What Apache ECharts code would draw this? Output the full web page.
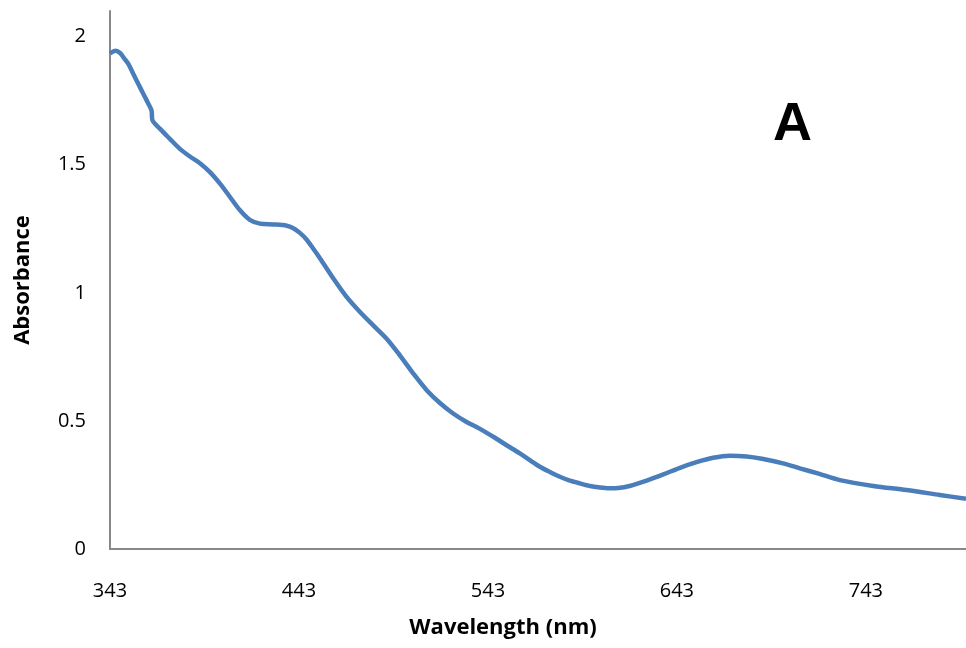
<!DOCTYPE html>
<html>
<head>
<meta charset="utf-8">
<script src="https://cdn.jsdelivr.net/npm/echarts@6/dist/echarts.min.js"></script>
<style>
  html, body { margin: 0; padding: 0; background: #fff; }
  #chart { width: 966px; height: 648px; }
</style>
</head>
<body>
<div id="chart"></div>
<script>
// UV-Vis absorption spectrum
const wavelengths = [
  343, 346, 348.5, 350.5, 352.7, 355.3, 358, 360.6, 363.3, 365.0, 365.4,
  369.5, 374.7, 380, 385.3, 390.6, 395.9, 401.2, 406.5, 411.8, 417,
  422.4, 429.4, 436.5, 440, 443.5, 447, 450.6, 454.1, 461.1, 468.2,
  475.3, 482.3, 489.4, 496.4, 503.5, 510.6, 517.6, 524.6, 531.7, 538.8,
  545.8, 552.9, 559.9, 565, 570.5, 576, 581.1, 586, 591.7, 597,
  602.3, 607, 612, 618, 627, 635.8, 644.6, 653.4, 662.2, 671, 679.9,
  688, 699.2, 708.1, 718, 729.2, 746.9, 764.5, 782.1, 796
];
const absorbance = [
  1.935, 1.945, 1.935, 1.915, 1.894, 1.855, 1.815, 1.777, 1.738, 1.711, 1.675,
  1.640, 1.601, 1.562, 1.532, 1.506, 1.471, 1.426, 1.374, 1.322, 1.285,
  1.270, 1.267, 1.262, 1.252, 1.234, 1.208, 1.172, 1.135, 1.057, 0.984,
  0.925, 0.873, 0.821, 0.756, 0.685, 0.620, 0.570, 0.529, 0.496, 0.469,
  0.438, 0.405, 0.373, 0.348, 0.321, 0.300, 0.282, 0.268, 0.256, 0.246,
  0.240, 0.237, 0.238, 0.246, 0.267, 0.291, 0.317, 0.339, 0.356, 0.364, 0.361,
  0.352, 0.334, 0.315, 0.294, 0.269, 0.246, 0.230, 0.211, 0.196
];
const xTickLabels = [343, 443, 543, 643, 743];
const yTickLabels = [0, 0.5, 1, 1.5, 2];

const FONT = 'Open Sans';
const chart = echarts.init(document.getElementById('chart'));
chart.setOption({
  animation: false,
  backgroundColor: '#ffffff',
  grid: { left: 110, right: 0, top: 11, bottom: 99, containLabel: false },
  xAxis: {
    type: 'value',
    min: 343,
    max: 796,
    axisLine: { show: true, lineStyle: { color: '#888888', width: 2 } },
    axisTick: { show: false },
    splitLine: { show: false },
    axisLabel: {
      customValues: xTickLabels,
      margin: 32,
      fontFamily: FONT, fontSize: 20, color: '#000'
    }
  },
  yAxis: {
    type: 'value',
    min: 0,
    max: 2.1,
    name: 'Absorbance',
    nameLocation: 'middle',
    nameGap: 76,
    nameTextStyle: { fontFamily: FONT, fontWeight: 'bold', fontSize: 22, color: '#000' },
    axisLine: { show: true, lineStyle: { color: '#888888', width: 2 } },
    axisTick: { show: false },
    splitLine: { show: false },
    axisLabel: {
      customValues: yTickLabels,
      margin: 24,
      fontFamily: FONT, fontSize: 20, color: '#000'
    }
  },
  graphic: [
    {
      type: 'text',
      x: 503,
      y: 628,
      style: {
        text: 'Wavelength (nm)', fontFamily: FONT, fontWeight: 'bold', fontSize: 22,
        fill: '#000', align: 'center', verticalAlign: 'middle'
      }
    },
    {
      type: 'text',
      left: 773,
      top: 98,
      style: { text: 'A', fontFamily: 'Liberation Sans', fontWeight: 'bold', fontSize: 54, fill: '#000' }
    }
  ],
  series: [{
    type: 'line',
    data: wavelengths.map((w, i) => [w, absorbance[i]]),
    showSymbol: false,
    smooth: 0.3,
    clip: true,
    lineStyle: { color: '#4a7ebb', width: 4.5 }
  }]
});
</script>
</body>
</html>
